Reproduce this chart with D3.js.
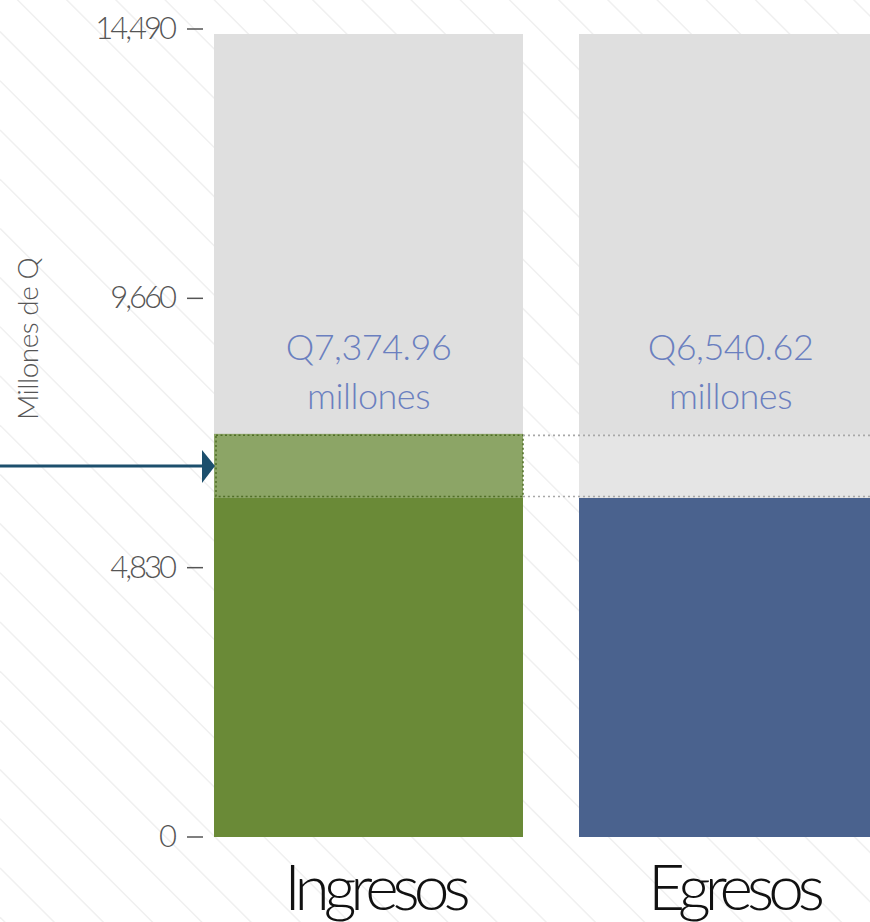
<!DOCTYPE html>
<html>
  <head>
    <style>
      body {margin: 0; background: #ffffff;}
      * {font-family: Lato, "Open Sans", sans-serif;}
    </style>
    <script src="https://d3js.org/d3.v7.min.js"></script>
  </head>
  <body>
    <div id="chart-div"></div>
    <script>
      // data
      const categories = ["Ingresos", "Egresos"]
      const amountLabels = ["Q7,374.96", "Q6,540.62"]
      const barValues = [7230, 6080]        // bar tops as drawn (Millones de Q)
      const backValue = 14400               // grey background bars
      const tickValues = [0, 4830, 9660, 14490]

      const barColors = ["#6a8a37", "#4a628e"]

      var w = 870, h = 922

      var svg = d3.select("#chart-div")
        .append("svg")
        .attr("width", w)
        .attr("height", h)

      // diagonal hatching in the background
      var hatch = svg.append("g")
      for (let c = -w + 16; c < h; c += 49.2) {
        hatch.append("line")
          .attr("x1", 0).attr("y1", c)
          .attr("x2", w + h).attr("y2", c + w + h)
          .style("stroke", "#f0f0f0")
          .style("stroke-width", 1.5)
      }

      var y = d3.scaleLinear().domain([0, 14490]).range([837, 29])
      var x = d3.scaleBand().domain(categories).range([214, 888]).paddingInner(56 / 365)

      // grey back bars
      svg.selectAll(".back")
        .data(categories)
        .enter()
        .append("rect")
          .attr("class", "back")
          .attr("x", d => x(d))
          .attr("y", y(backValue))
          .attr("width", x.bandwidth())
          .attr("height", y(0) - y(backValue))
          .style("fill", "#dfdfdf")

      const lo = d3.min(barValues), hi = d3.max(barValues)

      // coloured bars (up to the lower of the two)
      svg.selectAll(".bar")
        .data(categories)
        .enter()
        .append("rect")
          .attr("class", "bar")
          .attr("x", d => x(d))
          .attr("y", y(lo))
          .attr("width", x.bandwidth())
          .attr("height", y(0) - y(lo))
          .style("fill", (d, i) => barColors[i])

      // surplus band
      svg.append("rect")
        .attr("x", x("Egresos"))
        .attr("y", y(hi))
        .attr("width", x.bandwidth())
        .attr("height", y(lo) - y(hi))
        .style("fill", "#e5e5e5")

      svg.append("rect")
        .attr("x", x("Ingresos"))
        .attr("y", y(hi))
        .attr("width", x.bandwidth())
        .attr("height", y(lo) - y(hi))
        .style("fill", "#8ca566")
      svg.append("rect")
        .attr("x", x("Ingresos") + 2)
        .attr("y", y(hi) + 1.5)
        .attr("width", x.bandwidth() - 2)
        .attr("height", y(lo) - y(hi) - 3)
        .style("fill", "none")
        .style("stroke", "#4f6e27")
        .style("stroke-width", 1.5)
        .style("stroke-dasharray", "2,2.5")

      // grey dotted guides
      ;[hi, lo].forEach(v => {
        svg.append("line")
          .attr("x1", x("Ingresos") + x.bandwidth()).attr("x2", w)
          .attr("y1", y(v) + (v == hi ? 1.5 : -1.5)).attr("y2", y(v) + (v == hi ? 1.5 : -1.5))
          .style("stroke", "#a8a8a8")
          .style("stroke-width", 1.6)
          .style("stroke-dasharray", "2,3")
      })

      // arrow
      var ay = y((hi + lo) / 2)
      svg.append("line")
        .attr("x1", 0).attr("x2", 204)
        .attr("y1", ay).attr("y2", ay)
        .style("stroke", "#1c4f6d")
        .style("stroke-width", 3)
      svg.append("path")
        .attr("d", "M202," + (ay - 16) + "L215," + ay + "L202," + (ay + 17) + "Z")
        .style("fill", "#1c4f6d")

      // y axis ticks
      var ticks = svg.selectAll(".tick")
        .data(tickValues)
        .enter()
        .append("g")
          .attr("class", "tick")
          .attr("transform", d => "translate(0," + y(d) + ")")
      ticks.append("text")
        .attr("x", 174)
        .attr("y", 10)
        .attr("text-anchor", "end")
        .style("font-size", "31px")
        .style("font-weight", 300)
        .style("letter-spacing", "-3px")
        .style("fill", "#555555")
        .text(d => d3.format(",")(d))
      ticks.append("line")
        .attr("x1", 187).attr("x2", 203)
        .style("stroke", "#555555")
        .style("stroke-width", 1.5)

      svg.append("text")
        .attr("transform", "translate(38,339) rotate(-90)")
        .attr("text-anchor", "middle")
        .style("font-size", "28px")
        .style("font-weight", 300)
        .style("letter-spacing", "-0.5px")
        .style("fill", "#555555")
        .text("Millones de Q")

      // amount labels
      var labels = svg.selectAll(".amount")
        .data(categories)
        .enter()
        .append("text")
          .attr("class", "amount")
          .attr("text-anchor", "middle")
          .attr("x", d => x(d) + x.bandwidth() / 2 - (d == "Egresos" ? 3 : 0))
          .style("font-size", "36px")
          .style("font-weight", 300)
          .style("letter-spacing", "-0.5px")
          .style("fill", "#6b7fbf")
      labels.append("tspan").attr("y", 360).text((d, i) => amountLabels[i])
      labels.append("tspan").attr("x", d => x(d) + x.bandwidth() / 2 - (d == "Egresos" ? 3 : 0)).attr("y", 409).text("millones")

      // category labels
      svg.selectAll(".cat")
        .data(categories)
        .enter()
        .append("text")
          .attr("class", "cat")
          .attr("text-anchor", "middle")
          .attr("x", d => x(d) + x.bandwidth() / 2 + (d == "Ingresos" ? 6 : 0))
          .attr("y", 910)
          .style("font-size", "64px")
          .style("font-weight", 300)
          .style("letter-spacing", "-6px")
          .style("fill", "#111111")
          .text(d => d)
    </script>
  </body>
</html>
